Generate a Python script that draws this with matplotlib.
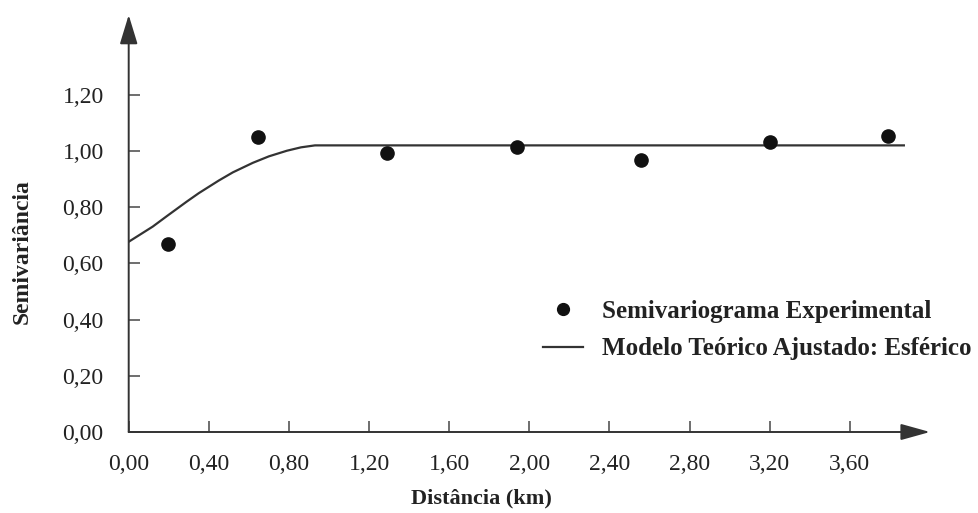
import matplotlib
matplotlib.use("Agg")
import matplotlib.pyplot as plt
from matplotlib.lines import Line2D

plt.rcParams['font.family'] = ['Liberation Serif', 'DejaVu Serif']

# Experimental semivariogram points
lag_km = [0.196, 0.646, 1.290, 1.939, 2.559, 3.200, 3.790]
semivar = [0.668, 1.049, 0.994, 1.013, 0.968, 1.032, 1.053]

# Fitted spherical model
model_x = [0.00, 0.06, 0.12, 0.19, 0.29, 0.35, 0.45, 0.52, 0.62, 0.70, 0.79, 0.86, 0.93, 3.87]
model_y = [0.677, 0.704, 0.731, 0.768, 0.820, 0.850, 0.895, 0.924, 0.958, 0.981, 1.001, 1.013, 1.020, 1.020]

x_ticks = [0.0, 0.4, 0.8, 1.2, 1.6, 2.0, 2.4, 2.8, 3.2, 3.6]
x_tick_labels = ["0,00", "0,40", "0,80", "1,20", "1,60", "2,00", "2,40", "2,80", "3,20", "3,60"]
y_ticks = [0.0, 0.2, 0.4, 0.6, 0.8, 1.0, 1.2]
y_tick_labels = ["0,00", "0,20", "0,40", "0,60", "0,80", "1,00", "1,20"]

x_label = "Distância (km)"
y_label = "Semivariância"
legend_points = "Semivariograma Experimental"
legend_model = "Modelo Teórico Ajustado: Esférico"

W, H = 979, 513
fig = plt.figure(figsize=(W / 100, H / 100), dpi=100)
left_px, right_px, bottom_px, top_px = 128.7, 930.0, 432.0, 15.0
ax = fig.add_axes([left_px / W, (H - bottom_px) / H,
                   (right_px - left_px) / W, (bottom_px - top_px) / H])
ax.set_xlim(0, (right_px - left_px) / 200.3)
ax.set_ylim(0, (bottom_px - top_px) / 281.0)

for s in ax.spines.values():
    s.set_visible(False)

axis_color = '#555555'
txt_color = '#222222'
# axes with arrows
ax.annotate('', xy=(1, 0), xytext=(0, 0), xycoords='axes fraction',
            arrowprops=dict(arrowstyle='-|>,head_length=1.8,head_width=0.5',
                            lw=1.4, color='#333333', shrinkA=0, shrinkB=0,
                            mutation_scale=10), annotation_clip=False)
ax.annotate('', xy=(0, 1), xytext=(0, 0), xycoords='axes fraction',
            arrowprops=dict(arrowstyle='-|>,head_length=1.8,head_width=0.55',
                            lw=1.4, color='#333333', shrinkA=0, shrinkB=0,
                            mutation_scale=10), annotation_clip=False)

ax.plot(model_x, model_y, color='#333333', lw=1.6, zorder=3)
ax.plot(lag_km, semivar, 'o', color='#111111', ms=9.5, zorder=4)

ax.set_xticks(x_ticks)
ax.set_xticklabels(x_tick_labels)
ax.set_yticks(y_ticks)
ax.set_yticklabels(y_tick_labels)
ax.tick_params(axis='both', direction='in', length=8, width=1.2, color=axis_color,
               labelsize=17, labelcolor=txt_color)
ax.tick_params(axis='x', pad=16)
ax.tick_params(axis='y', pad=18)

fig.text(481 / W, 1 - 498 / H, x_label, ha='center', va='center',
         fontsize=16, fontweight='bold', color=txt_color)
fig.text(22 / W, 1 - 252 / H, y_label, ha='center', va='center', rotation=90,
         fontsize=17, fontweight='bold', color=txt_color)

handles = [Line2D([], [], ls='none', marker='o', color='#111111', ms=8.5),
           Line2D([], [], color='#333333', lw=1.6)]
fig.legend(handles, [legend_points, legend_model], loc='upper left',
           bbox_to_anchor=(543 / W, 1 - 300 / H), bbox_transform=fig.transFigure,
           frameon=False, prop={'weight': 'bold', 'size': 18},
           handlelength=1.6, handletextpad=0.76, labelspacing=0.58,
           borderpad=0, borderaxespad=0, labelcolor=txt_color)

fig.savefig('out.png', dpi=100)
